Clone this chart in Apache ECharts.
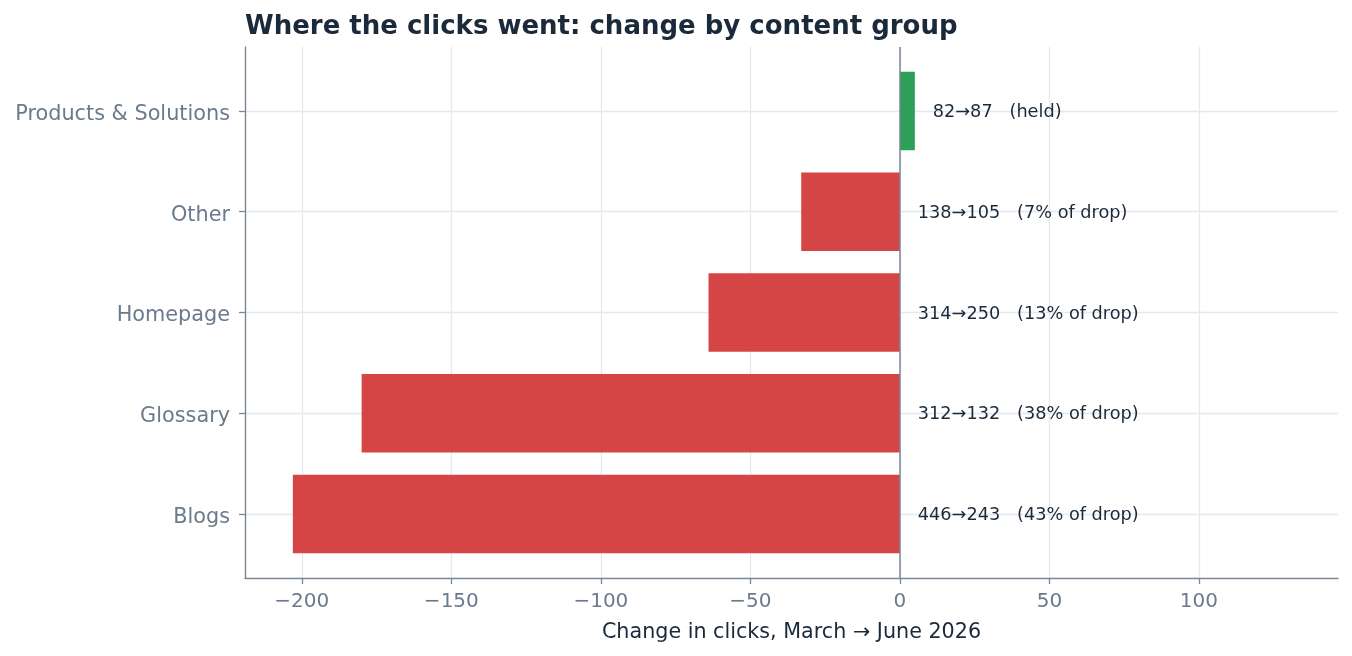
<!DOCTYPE html>
<html>
<head>
<meta charset="utf-8">
<script src="https://cdn.jsdelivr.net/npm/echarts@6/dist/echarts.min.js"></script>
<style>
html,body{margin:0;padding:0;background:#fff;}
#chart{width:1352px;height:656px;}
</style>
</head>
<body>
<div id="chart"></div>
<script>
// Data (bottom to top)
var categories = ['Blogs', 'Glossary', 'Homepage', 'Other', 'Products & Solutions'];
var marchClicks = [446, 312, 314, 138, 82];
var juneClicks = [243, 132, 250, 105, 87];
var changeValues = [-203, -180, -64, -33, 5];
var shareNotes = ['43% of drop', '38% of drop', '13% of drop', '7% of drop', 'held'];
var xTicks = [-200, -150, -100, -50, 0, 50, 100];
var yTicks = [0, 1, 2, 3, 4];

var RED = '#d64545', GREEN = '#2ca05a';
var SPINE = '#7b8794', GRID = '#e5e8ed', TICKTXT = '#6b7a8c', DARK = '#1b2a3a';

var seriesData = changeValues.map(function (v, i) { return [v, i]; });

var chart = echarts.init(document.getElementById('chart'), null, {renderer: 'canvas'});
chart.setOption({
  backgroundColor: '#fff',
  animation: false,
  title: {
    text: 'Where the clicks went: change by content group',
    left: 245, top: 14, padding: 0,
    textStyle: {fontFamily: 'DejaVu Sans', fontWeight: 'bold', fontSize: 26, color: DARK}
  },
  grid: {left: 245, right: 14, top: 47, bottom: 78, containLabel: false},
  xAxis: {
    type: 'value', min: -219, max: 146.5,
    name: 'Change in clicks, March \u2192 June 2026',
    nameLocation: 'middle', nameGap: 44,
    nameTextStyle: {fontFamily: 'DejaVu Sans', fontSize: 20.7, color: DARK},
    axisLine: {show: true, onZero: false, lineStyle: {color: SPINE, width: 1.4}},
    axisTick: {show: true, length: 6, lineStyle: {color: SPINE, width: 1.3}, customValues: xTicks},
    axisLabel: {customValues: xTicks, margin: 14, fontFamily: 'DejaVu Sans', fontSize: 20, color: TICKTXT,
      formatter: function (v) { return v < 0 ? '\u2212' + Math.abs(v) : String(v); }},
    splitLine: {show: true, lineStyle: {color: GRID, width: 1.3}}
  },
  yAxis: {
    type: 'value', min: -0.635, max: 4.635,
    axisLine: {show: true, onZero: false, lineStyle: {color: SPINE, width: 1.4}},
    axisTick: {show: true, length: 6, lineStyle: {color: SPINE, width: 1.3}, customValues: yTicks},
    axisLabel: {customValues: yTicks, margin: 15, verticalAlign: 'top', lineHeight: 7,
      fontFamily: 'DejaVu Sans', fontSize: 20.8, color: TICKTXT,
      formatter: function (v) { return categories[Math.round(v)] || ''; }},
    splitLine: {show: true, lineStyle: {color: GRID, width: 1.3}}
  },
  series: [{
    type: 'custom',
    data: seriesData,
    encode: {x: 0, y: 1},
    renderItem: function (params, api) {
      var v = api.value(0), idx = api.value(1);
      var p0 = api.coord([0, idx]);
      var p1 = api.coord([v, idx]);
      var h = api.size([0, 0.78])[1];
      var lp = api.coord([Math.max(v, 0) + 6, idx]);
      var i = params.dataIndex;
      return {
        type: 'group',
        children: [{
          type: 'rect',
          shape: {x: Math.min(p0[0], p1[0]), y: p0[1] - h / 2, width: Math.abs(p1[0] - p0[0]), height: h},
          style: {fill: v >= 0 ? GREEN : RED}
        }, {
          type: 'text',
          x: lp[0], y: lp[1] + 1.5,
          style: {
            text: marchClicks[i] + '\u2192' + juneClicks[i] + '   (' + shareNotes[i] + ')',
            fill: DARK, fontFamily: 'DejaVu Sans', fontSize: 17.7,
            align: 'left', verticalAlign: 'middle'
          }
        }]
      };
    },
    markLine: {
      silent: true, symbol: 'none', animation: false,
      label: {show: false},
      lineStyle: {color: SPINE, width: 1.5, type: 'solid'},
      data: [{xAxis: 0}]
    }
  }]
});
</script>
</body>
</html>
